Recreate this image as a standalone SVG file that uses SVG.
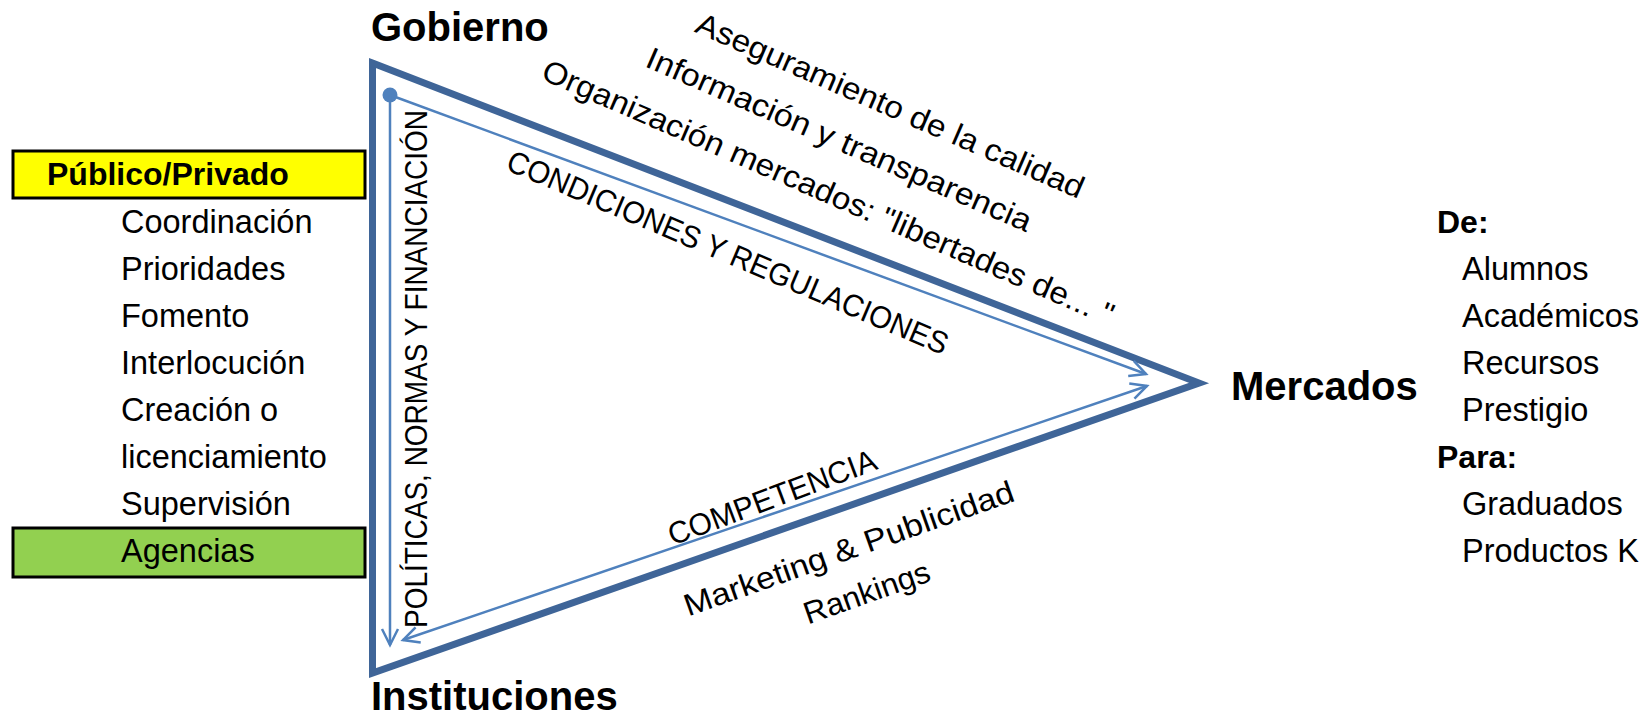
<svg xmlns="http://www.w3.org/2000/svg" width="1651" height="718" viewBox="0 0 1651 718">
<style>
text{font-family:"Liberation Sans",Arial,sans-serif;fill:#000}
.t{font-size:40px;font-weight:bold}
.r{font-size:32.5px}
.b{font-size:32px;font-weight:bold}
.d{font-size:31px}
.outer{fill:none;stroke:#3F6598;stroke-width:7;stroke-linejoin:miter;stroke-miterlimit:20}
.arr{fill:none;stroke:#4F81BD;stroke-width:2.5}
.box{stroke:#000;stroke-width:3}
</style>
<defs>
<marker id="ah" markerUnits="userSpaceOnUse" markerWidth="22" markerHeight="22" refX="18" refY="10" orient="auto-start-reverse" viewBox="0 0 22 20">
<path d="M2,2 L18,10 L2,18" fill="none" stroke="#4F81BD" stroke-width="2.5"/>
</marker>
</defs>
<rect width="1651" height="718" fill="#fff"/>

<g id="triangle">
<path class="outer" d="M372.5,63 L1199,383 L372.5,673 Z"/>
</g>

<g id="connectors">
<circle cx="390" cy="95" r="7.5" fill="#4F81BD"/>
<line class="arr" x1="390" y1="95" x2="390" y2="645" marker-end="url(#ah)"/>
<line class="arr" x1="390" y1="95" x2="1146" y2="374" marker-end="url(#ah)"/>
<line class="arr" x1="403" y1="640" x2="1147" y2="386" marker-start="url(#ah)" marker-end="url(#ah)"/>
</g>

<g id="gobierno"><text class="t" x="371" y="41">Gobierno</text></g>
<g id="instituciones"><text class="t" x="371" y="710">Instituciones</text></g>
<g id="mercados"><text class="t" x="1231" y="400">Mercados</text></g>

<g id="publico-privado">
<rect class="box" x="13" y="151" width="352" height="47" fill="#FFFF00"/>
<text class="b" x="47" y="185">Público/Privado</text>
</g>
<g id="funciones">
<text class="r" x="121" y="233">Coordinación</text>
<text class="r" x="121" y="280">Prioridades</text>
<text class="r" x="121" y="327">Fomento</text>
<text class="r" x="121" y="374">Interlocución</text>
<text class="r" x="121" y="421">Creación o</text>
<text class="r" x="121" y="468">licenciamiento</text>
<text class="r" x="121" y="515">Supervisión</text>
</g>
<g id="agencias">
<rect class="box" x="13" y="528" width="352" height="49" fill="#92D050"/>
<text class="r" x="121" y="562">Agencias</text>
</g>

<g id="mercados-lista">
<text class="b" x="1437" y="233">De:</text>
<text class="r" x="1462" y="280">Alumnos</text>
<text class="r" x="1462" y="327">Académicos</text>
<text class="r" x="1462" y="374">Recursos</text>
<text class="r" x="1462" y="421">Prestigio</text>
<text class="b" x="1437" y="468">Para:</text>
<text class="r" x="1462" y="515">Graduados</text>
<text class="r" x="1462" y="562">Productos K</text>
</g>

<g id="labels-top">
<text class="d" text-anchor="middle" transform="translate(890,106) rotate(23.5)" y="10" textLength="420" lengthAdjust="spacingAndGlyphs">Aseguramiento de la calidad</text>
<text class="d" text-anchor="middle" transform="translate(839,140) rotate(23.5)" y="10" textLength="417" lengthAdjust="spacingAndGlyphs">Información y transparencia</text>
<text class="d" text-anchor="middle" transform="translate(828,193) rotate(23.5)" y="10" textLength="620" lengthAdjust="spacingAndGlyphs">Organización mercados: "libertades de... "</text>
<text class="d" text-anchor="middle" transform="translate(728,252) rotate(23)" y="11" textLength="476" lengthAdjust="spacingAndGlyphs">CONDICIONES Y REGULACIONES</text>
</g>

<g id="labels-left">
<text class="d" text-anchor="middle" transform="translate(416,369) rotate(-90)" y="11" textLength="518" lengthAdjust="spacingAndGlyphs">POLÍTICAS, NORMAS Y FINANCIACIÓN</text>
</g>

<g id="labels-bottom">
<text class="d" text-anchor="middle" transform="translate(772,497) rotate(-20.5)" y="11" textLength="220" lengthAdjust="spacingAndGlyphs">COMPETENCIA</text>
<text class="d" text-anchor="middle" transform="translate(849,549) rotate(-19.5)" y="10" textLength="348" lengthAdjust="spacingAndGlyphs">Marketing &amp; Publicidad</text>
<text class="d" text-anchor="middle" transform="translate(867,593) rotate(-19.5)" y="10" textLength="132" lengthAdjust="spacingAndGlyphs">Rankings</text>
</g>
</svg>
